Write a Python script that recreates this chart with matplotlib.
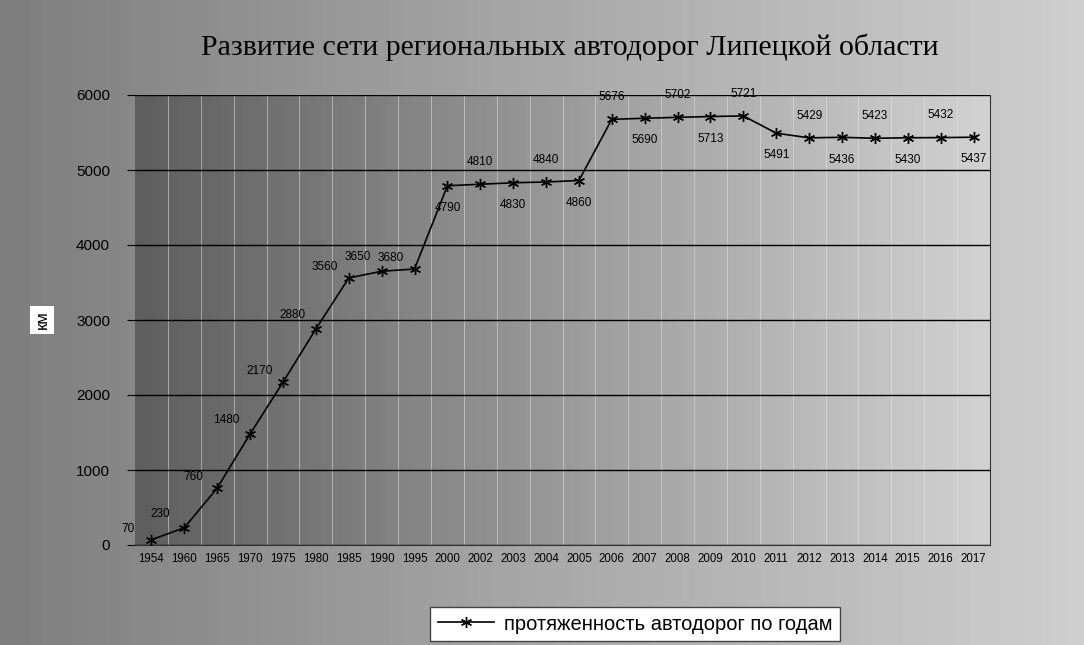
import numpy as np
import matplotlib
matplotlib.use("Agg")
import matplotlib.pyplot as plt
from matplotlib.lines import Line2D
from matplotlib.colors import LinearSegmentedColormap

years = ["1954", "1960", "1965", "1970", "1975", "1980", "1985", "1990", "1995",
         "2000", "2002", "2003", "2004", "2005", "2006", "2007", "2008", "2009",
         "2010", "2011", "2012", "2013", "2014", "2015", "2016", "2017"]
length_km = [70, 230, 760, 1480, 2170, 2880, 3560, 3650, 3680,
             4790, 4810, 4830, 4840, 4860, 5676, 5690, 5702, 5713,
             5721, 5491, 5429, 5436, 5423, 5430, 5432, 5437]
yticks = [0, 1000, 2000, 3000, 4000, 5000, 6000]
title = "Развитие сети региональных автодорог Липецкой области"
ylabel = "км"
series_name = "протяженность автодорог по годам"

W, H = 1084, 645
fig = plt.figure(figsize=(W / 100, H / 100), dpi=100)

bg = fig.add_axes([0, 0, 1, 1], zorder=-2)
grad = np.linspace(0, 1, 256)[None, :]
cm_bg = LinearSegmentedColormap.from_list("bg", ["#7e7e7e", "#a8a8a8", "#cfcfcf"])
bg.imshow(grad, aspect="auto", cmap=cm_bg, extent=[0, 1, 0, 1])
bg.set_axis_off()

ax = fig.add_axes([135 / W, (H - 545) / H, 855 / W, 450 / H])
x = np.arange(len(years))
ax.set_xlim(-0.5, len(years) - 0.5)
ax.set_ylim(0, 6000)

cm_pa = LinearSegmentedColormap.from_list("pa", ["#5e5e5e", "#9a9a9a", "#d2d2d2"])
ax.imshow(grad, aspect="auto", cmap=cm_pa, extent=[-0.5, len(years) - 0.5, 0, 6000], zorder=0)

ax.set_yticks(yticks)
ax.set_yticklabels([str(v) for v in yticks], fontsize=11, family="Liberation Sans")
ax.set_xticks(x)
ax.set_xticklabels(years, fontsize=8.3, family="Liberation Sans")
ax.grid(axis="y", color="black", linewidth=1.0, zorder=1)
for xb in np.arange(0.5, len(years) - 0.5):
    ax.axvline(xb, color="#e6e6e6", linewidth=0.6, alpha=0.6, zorder=1)
ax.tick_params(axis="y", length=6, pad=12)
ax.tick_params(axis="x", length=0, pad=6)
for s in ["top", "left"]:
    ax.spines[s].set_visible(False)
ax.spines["bottom"].set_color("#333333")
ax.spines["right"].set_color("#333333")

star = (6, 2, 0)
ax.plot(x, length_km, color="black", linewidth=1.2, marker=star, markersize=8,
        markeredgewidth=1.0, zorder=3)

for i, v in enumerate(length_km):
    if i < 9:
        off = (-17, 8) if i % 2 == 0 else (-17, 10)
    else:
        off = (0, 16) if i % 2 == 0 else (0, -16)
    ax.annotate(str(v), (x[i], v), xytext=off, textcoords="offset points",
                ha="center", va="center", fontsize=8.5, family="Liberation Sans",
                color="black", zorder=4)

fig.text(570 / W, 1 - 47 / H, title, ha="center", va="center",
         fontsize=21.5, family="Liberation Serif", color="black")
fig.text(42 / W, 1 - 320 / H, ylabel, ha="center", va="center", rotation=90,
         fontsize=12, family="Liberation Sans",
         bbox=dict(facecolor="white", edgecolor="none", pad=3))

handle = Line2D([0], [0], color="black", linewidth=1.2, marker=star, markersize=8)
leg = fig.legend([handle], [series_name], loc="center",
                 bbox_to_anchor=(635 / W, 1 - 624 / H), frameon=True,
                 prop={"family": "Liberation Sans", "size": 14.5},
                 fancybox=False, edgecolor="#444444", facecolor="white",
                 handlelength=2.8, handletextpad=0.5, borderpad=0.35,
                 borderaxespad=0)
leg.get_frame().set_alpha(1.0)

fig.savefig("out.png", dpi=100)
